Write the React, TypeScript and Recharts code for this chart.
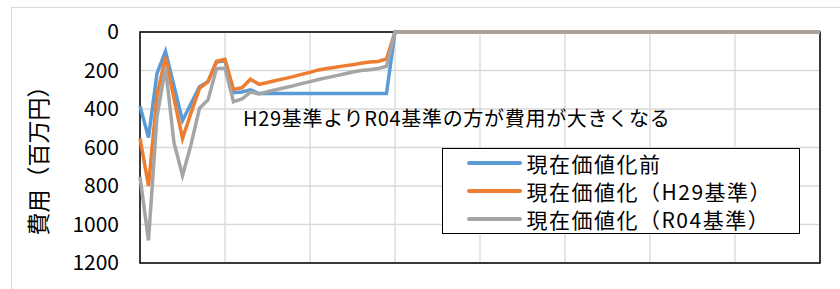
import { LineChart, Line, XAxis, YAxis, CartesianGrid, ReferenceArea } from 'recharts'

// period index (points are evenly spaced, last segment stays at 0 up to 80)
const period = [0, 1, 2, 3, 4, 5, 6, 7, 8, 9, 10, 11, 12, 13, 14, 15, 16, 17, 18, 19, 20, 21, 22, 23, 24, 25, 26, 27, 28, 29, 30, 80]
const beforePv = [385, 548, 215, 100, 280, 460, 372, 284, 258, 156, 150, 315, 312, 300, 320, 320, 320, 320, 320, 320, 320, 320, 320, 320, 320, 320, 320, 320, 320, 320, 0, 0]
const pvH29 = [552, 800, 330, 130, 345, 553, 420, 293, 258, 152, 142, 298, 290, 245, 272, 262, 252, 242, 232, 220, 210, 197, 190, 183, 176, 170, 162, 156, 153, 140, 0, 0]
const pvR04 = [752, 1083, 440, 185, 575, 745, 585, 396, 353, 190, 187, 362, 348, 312, 322, 310, 300, 290, 280, 268, 258, 247, 237, 228, 218, 208, 200, 196, 190, 178, 0, 0]

const yTicks = [0, 200, 400, 600, 800, 1000, 1200]
const xTicks = [0, 10, 20, 30, 40, 50, 60, 70, 80]
const seriesNames = ['現在価値化前', '現在価値化（H29基準）', '現在価値化（R04基準）']
const seriesColors = ['#5b9bd5', '#ed7d31', '#a5a5a5']
const yLabel = '費用（百万円）'
const note = 'H29基準よりR04基準の方が費用が大きくなる'

const data = period.map((p, i) => ({ p, a: beforePv[i], b: pvH29[i], c: pvR04[i] }))

const font = '"Noto Sans CJK JP", "Noto Sans", sans-serif'

function LegendBox() {
  return (
    <div style={{ position: 'absolute', left: 442, top: 148, border: '1.5px solid #000', background: '#fff', boxSizing: 'border-box', width: 358, height: 86, fontFamily: font, fontSize: 21, letterSpacing: 1.5, color: '#000' }}>
      {seriesNames.map((name, i) => (
        <div key={name} style={{ display: 'flex', alignItems: 'center', height: 28, lineHeight: '28px' }}>
          <span style={{ display: 'inline-block', width: 55, height: 4, background: seriesColors[i], marginLeft: 23.5, marginRight: 5, borderRadius: 2 }} />
          <span>{name}</span>
        </div>
      ))}
    </div>
  )
}

export default function App() {
  return (
    <div style={{ position: 'absolute', left: 0, top: 0, width: 840, height: 289, background: '#fff', overflow: 'hidden' }}>
      <div style={{ position: 'absolute', left: 11, top: 7, right: 0, bottom: 0, borderLeft: '1px solid #d9d9d9', borderTop: '1px solid #d9d9d9' }} />
      <div style={{ position: 'absolute', left: 0, top: 0 }}>
        <LineChart width={840} height={289} data={data} margin={{ top: 32, right: 20, bottom: 26, left: 0 }}>
          <CartesianGrid stroke="#d9d9d9" strokeWidth={1.3} />
          <XAxis
            dataKey="p"
            type="number"
            domain={[0, 80]}
            ticks={xTicks}
            interval={0}
            tickFormatter={() => ''}
            axisLine={false}
            tickLine={false}
            height={0}
          />
          <YAxis
            reversed
            domain={[0, 1200]}
            ticks={yTicks}
            interval={0}
            width={140}
            axisLine={false}
            tickLine={false}
            tickSize={0}
            tickMargin={21}
            tick={{ fill: '#000', fontSize: 21, fontFamily: font }}
          />
          <ReferenceArea x1={0} x2={80} y1={0} y2={1200} fill="none" stroke="#000" strokeWidth={1.5} />
          <Line type="linear" dataKey="a" name={seriesNames[0]} stroke={seriesColors[0]} strokeWidth={3.5} dot={false} isAnimationActive={false} />
          <Line type="linear" dataKey="b" name={seriesNames[1]} stroke={seriesColors[1]} strokeWidth={3.5} dot={false} isAnimationActive={false} />
          <Line type="linear" dataKey="c" name={seriesNames[2]} stroke={seriesColors[2]} strokeWidth={3.5} dot={false} isAnimationActive={false} />
          <text x={37} y={155} transform="rotate(-90 37 155)" textAnchor="middle" dominantBaseline="central" fontSize={23} fontFamily={font} fill="#000">{yLabel}</text>
          <text x={243} y={117} dominantBaseline="central" fontSize={20} letterSpacing={0.7} fontFamily={font} fill="#000">{note}</text>
        </LineChart>
      </div>
      <LegendBox />
    </div>
  )
}
